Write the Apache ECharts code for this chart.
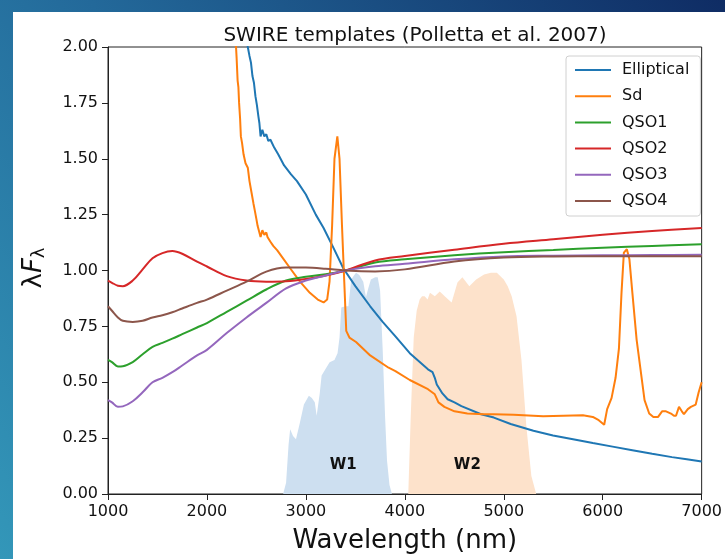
<!DOCTYPE html>
<html>
<head>
<meta charset="utf-8">
<script src="https://cdn.jsdelivr.net/npm/echarts@6/dist/echarts.min.js"></script>
<style>
html,body{margin:0;padding:0;width:725px;height:559px;overflow:hidden;}
#chart{width:725px;height:559px;}
</style>
</head>
<body>
<div id="chart"></div>
<script>
// ---------- data ----------
const seriesNames = ['Elliptical', 'Sd', 'QSO1', 'QSO2', 'QSO3', 'QSO4'];
const xTicks = [1000, 2000, 3000, 4000, 5000, 6000, 7000];
const yTicks = [0, 0.25, 0.5, 0.75, 1.0, 1.25, 1.5, 1.75, 2.0];

const ellX = [2380, 2413, 2430, 2445, 2460, 2475, 2490, 2505, 2520, 2530, 2542, 2560, 2580, 2600, 2620, 2642, 2680, 2720, 2780, 2850, 2910, 3000, 3100, 3179, 3280, 3378, 3500, 3650, 3776, 3905, 4050, 4234, 4280, 4303, 4323, 4380, 4433, 4502, 4572, 4771, 4900, 5070, 5300, 5498, 5700, 5900, 6100, 6300, 6500, 6700, 6850, 7000];
const ellY = [2.10, 2.00, 1.96, 1.93, 1.87, 1.84, 1.78, 1.74, 1.69, 1.66, 1.60, 1.63, 1.60, 1.61, 1.58, 1.585, 1.55, 1.52, 1.47, 1.43, 1.40, 1.34, 1.25, 1.19, 1.10, 1.01, 0.93, 0.84, 0.77, 0.705, 0.63, 0.558, 0.545, 0.52, 0.49, 0.45, 0.424, 0.41, 0.393, 0.357, 0.342, 0.313, 0.283, 0.262, 0.245, 0.228, 0.212, 0.196, 0.18, 0.165, 0.155, 0.145];

const sdX = [2280, 2294, 2300, 2310, 2318, 2325, 2335, 2343, 2355, 2370, 2390, 2413, 2430, 2450, 2470, 2483, 2500, 2512, 2530, 2542, 2560, 2580, 2600, 2612, 2640, 2670, 2711, 2760, 2841, 2940, 3040, 3120, 3179, 3215, 3239, 3265, 3289, 3318, 3340, 3365, 3388, 3408, 3440, 3507, 3650, 3836, 3905, 4050, 4234, 4303, 4340, 4400, 4502, 4632, 4800, 4900, 5100, 5398, 5600, 5800, 5900, 5960, 6015, 6045, 6090, 6130, 6164, 6190, 6214, 6244, 6270, 6300, 6343, 6423, 6470, 6512, 6560, 6600, 6640, 6690, 6720, 6741, 6771, 6800, 6821, 6860, 6891, 6940, 6970, 7000];
const sdY = [2.2, 2.0, 1.95, 1.85, 1.82, 1.75, 1.68, 1.60, 1.57, 1.52, 1.48, 1.46, 1.40, 1.35, 1.30, 1.27, 1.23, 1.20, 1.17, 1.15, 1.18, 1.16, 1.17, 1.15, 1.13, 1.11, 1.09, 1.06, 1.01, 0.95, 0.90, 0.87, 0.857, 0.87, 0.95, 1.2, 1.5, 1.60, 1.50, 1.20, 0.95, 0.73, 0.70, 0.68, 0.62, 0.565, 0.55, 0.51, 0.469, 0.446, 0.41, 0.39, 0.37, 0.36, 0.357, 0.357, 0.355, 0.348, 0.35, 0.352, 0.345, 0.33, 0.31, 0.38, 0.43, 0.52, 0.65, 0.90, 1.08, 1.095, 1.05, 0.90, 0.69, 0.42, 0.36, 0.344, 0.345, 0.37, 0.37, 0.36, 0.35, 0.35, 0.39, 0.37, 0.357, 0.38, 0.39, 0.40, 0.455, 0.50];

const qsoX = [1000, 1040, 1100, 1150, 1250, 1350, 1450, 1550, 1650, 1750, 1900, 2000, 2200, 2400, 2600, 2800, 3000, 3200, 3400, 3700, 4000, 4500, 5000, 5500, 6000, 6500, 7000];
const qso1Y = [0.60, 0.59, 0.571, 0.572, 0.59, 0.625, 0.658, 0.676, 0.695, 0.715, 0.745, 0.765, 0.815, 0.865, 0.915, 0.955, 0.972, 0.983, 1.0, 1.036, 1.05, 1.068, 1.082, 1.092, 1.102, 1.11, 1.117];
const qso2Y = [0.955, 0.945, 0.932, 0.93, 0.955, 1.005, 1.055, 1.078, 1.087, 1.075, 1.04, 1.018, 0.975, 0.955, 0.95, 0.952, 0.962, 0.978, 1.0, 1.045, 1.065, 1.093, 1.12, 1.14, 1.16, 1.177, 1.19];
const qso3Y = [0.42, 0.41, 0.39, 0.392, 0.415, 0.455, 0.50, 0.52, 0.545, 0.575, 0.62, 0.645, 0.72, 0.79, 0.855, 0.92, 0.955, 0.978, 1.0, 1.019, 1.03, 1.05, 1.063, 1.066, 1.068, 1.069, 1.07];
const qso4Y = [0.84, 0.82, 0.79, 0.775, 0.77, 0.775, 0.79, 0.80, 0.813, 0.83, 0.855, 0.87, 0.91, 0.95, 0.995, 1.013, 1.013, 1.008, 1.0, 0.996, 1.005, 1.04, 1.058, 1.063, 1.064, 1.064, 1.064];

const w1X = [2770, 2800, 2825, 2841, 2870, 2900, 2940, 2980, 3030, 3060, 3090, 3109, 3140, 3159, 3200, 3240, 3289, 3320, 3340, 3358, 3400, 3430, 3458, 3490, 3507, 3540, 3580, 3607, 3630, 3657, 3700, 3726, 3750, 3776, 3800, 3820, 3845, 3870];
const w1Y = [0, 0.05, 0.22, 0.29, 0.26, 0.245, 0.32, 0.40, 0.44, 0.43, 0.41, 0.35, 0.45, 0.53, 0.56, 0.59, 0.60, 0.63, 0.70, 0.835, 0.84, 0.84, 0.96, 0.98, 0.99, 0.98, 0.95, 0.88, 0.92, 0.96, 0.97, 0.97, 0.91, 0.65, 0.35, 0.15, 0.04, 0];
const w2X = [4035, 4060, 4090, 4120, 4150, 4174, 4200, 4230, 4254, 4303, 4353, 4403, 4473, 4532, 4582, 4652, 4721, 4801, 4870, 4930, 5000, 5040, 5080, 5129, 5179, 5229, 5279, 5328];
const w2Y = [0, 0.35, 0.70, 0.82, 0.87, 0.885, 0.885, 0.87, 0.90, 0.885, 0.906, 0.885, 0.857, 0.946, 0.97, 0.93, 0.96, 0.982, 0.99, 0.99, 0.96, 0.93, 0.885, 0.795, 0.60, 0.30, 0.08, 0];
const filterNames = ['W1', 'W2'];

// ---------- chart ----------
const zip = (xs, ys) => xs.map((x, i) => [x, ys[i]]);
const colors = ['#1f77b4', '#ff7f0e', '#2ca02c', '#d62728', '#9467bd', '#8c564b'];
const FONT = 'DejaVu Sans';
const INK = '#111';

function lineSeries(name, data, color, smooth) {
  return {
    name: name, type: 'line', data: data, showSymbol: false, symbol: 'none',
    smooth: smooth ? 0.35 : false, clip: true, z: 5,
    lineStyle: { color: color, width: 2 }, itemStyle: { color: color },
    emphasis: { disabled: true }
  };
}
function filterSeries(name, data, color, labelCoord) {
  return {
    name: name, type: 'line', data: data, showSymbol: false, symbol: 'none',
    smooth: false, z: 1, lineStyle: { width: 0, color: color },
    areaStyle: { color: color, opacity: 1 }, emphasis: { disabled: true },
    markPoint: {
      symbol: 'circle', symbolSize: 0, silent: true,
      label: { show: true, formatter: name, color: INK, fontSize: 15, fontWeight: 'bold', fontFamily: FONT, position: 'inside' },
      data: [{ coord: labelCoord }]
    }
  };
}

const chart = echarts.init(document.getElementById('chart'), null, { renderer: 'canvas' });
chart.setOption({
  animation: false,
  backgroundColor: {
    type: 'linear', x: 0, y: 1, x2: 1, y2: 0,
    colorStops: [
      { offset: 0, color: '#3397b9' },
      { offset: 0.45, color: '#23699a' },
      { offset: 1, color: '#0f2c64' }
    ]
  },
  graphic: [
    { type: 'rect', left: 13, top: 12, shape: { width: 712, height: 547 }, style: { fill: '#ffffff' }, z: -10, silent: true },
    {
      type: 'text', x: 34, y: 268, rotation: Math.PI / 2, z: 10, silent: true,
      style: {
        text: '{m|λ}{f|F}{s|λ}', align: 'center', verticalAlign: 'middle',
        rich: {
          m: { fontSize: 26, fontFamily: FONT, fill: INK },
          f: { fontSize: 26, fontFamily: FONT, fontStyle: 'italic', fill: INK },
          s: { fontSize: 18, fontFamily: FONT, fill: INK, padding: [10, 0, 0, 0] }
        }
      }
    }
  ],
  title: {
    text: 'SWIRE templates (Polletta et al. 2007)',
    left: 410, top: 21, textAlign: 'center',
    textStyle: { fontFamily: FONT, fontSize: 20, fontWeight: 'normal', color: INK }
  },
  legend: {
    data: seriesNames, orient: 'vertical', left: 566, top: 56,
    backgroundColor: '#fff', borderColor: '#d0d0d0', borderWidth: 1, borderRadius: 3,
    padding: [6, 11, 7, 9], itemWidth: 36, itemHeight: 2, itemGap: 10.2, icon: 'rect',
    textStyle: { fontFamily: FONT, fontSize: 16, color: INK, lineHeight: 16, padding: [0, 0, 0, 6] },
    selectedMode: false
  },
  grid: { left: 108, right: 14, top: 47, bottom: 64, show: true, borderColor: '#222', borderWidth: 1, backgroundColor: 'transparent' },
  xAxis: {
    type: 'value', min: xTicks[0], max: xTicks[xTicks.length - 1], interval: 1000,
    name: 'Wavelength (nm)', nameLocation: 'middle', nameGap: 34,
    nameTextStyle: { fontFamily: FONT, fontSize: 26, color: INK },
    axisLine: { show: true, lineStyle: { color: '#222', width: 1 } },
    axisTick: { show: true, length: 6, lineStyle: { color: '#222' } },
    axisLabel: { fontFamily: FONT, fontSize: 16, color: INK, margin: 10, formatter: v => String(v) },
    splitLine: { show: false }
  },
  yAxis: {
    type: 'value', min: yTicks[0], max: yTicks[yTicks.length - 1], interval: 0.25,
    axisLine: { show: true, lineStyle: { color: '#222', width: 1 } },
    axisTick: { show: true, length: 6, lineStyle: { color: '#222' } },
    axisLabel: { fontFamily: FONT, fontSize: 16, color: INK, margin: 10, formatter: v => v.toFixed(2) },
    splitLine: { show: false }
  },
  series: [
    filterSeries(filterNames[0], zip(w1X, w1Y), '#cddff0', [3378, 0.13]),
    filterSeries(filterNames[1], zip(w2X, w2Y), '#fde2cb', [4632, 0.13]),
    lineSeries(seriesNames[0], zip(ellX, ellY), colors[0], false),
    lineSeries(seriesNames[1], zip(sdX, sdY), colors[1], false),
    lineSeries(seriesNames[2], zip(qsoX, qso1Y), colors[2], true),
    lineSeries(seriesNames[3], zip(qsoX, qso2Y), colors[3], true),
    lineSeries(seriesNames[4], zip(qsoX, qso3Y), colors[4], true),
    lineSeries(seriesNames[5], zip(qsoX, qso4Y), colors[5], true)
  ]
});
</script>
</body>
</html>
